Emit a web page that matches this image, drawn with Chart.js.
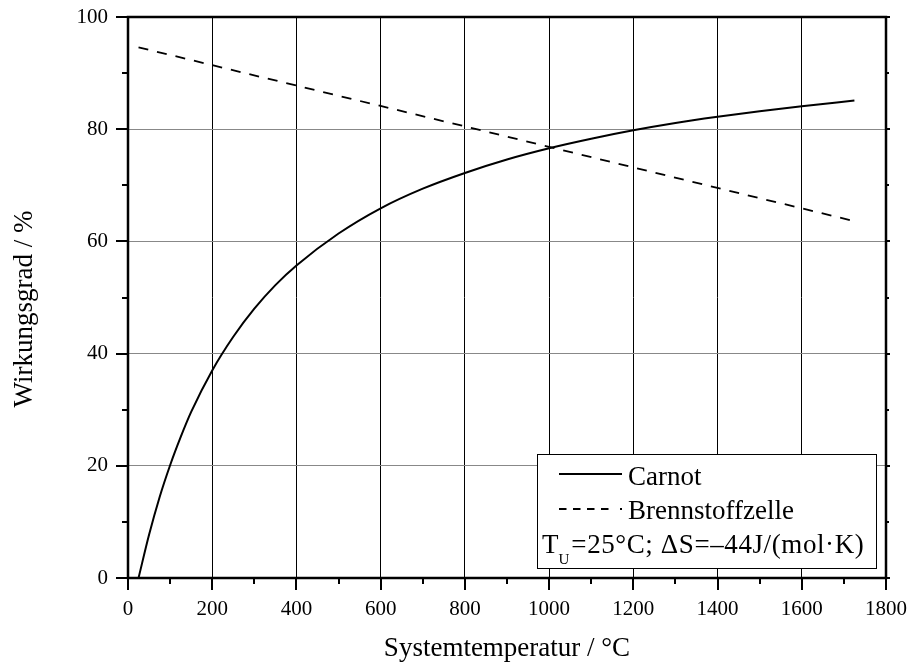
<!DOCTYPE html>
<html><head><meta charset="utf-8">
<script src="https://cdn.jsdelivr.net/npm/chart.js@4/dist/chart.umd.min.js"></script>
<style>html,body{margin:0;padding:0;background:#fff}#wrap{width:909px;height:666px}</style>
</head><body><div id="wrap"><canvas id="c"></canvas></div>
<script>
const carnotT = [25,50,75,100,125,150,200,250,300,350,400,500,600,700,800,900,1000,1100,1200,1300,1400,1500,1600,1725];
const carnotEta = [0,7.7,14.4,20.1,25.1,29.6,37.0,43.0,48.0,52.2,55.7,61.4,65.9,69.4,72.2,74.6,76.6,78.3,79.8,81.1,82.2,83.2,84.1,85.1];
const fuelT = [25,800,1725];
const fuelEta = [94.6,80.5,63.6];
const xTicks = [0,200,400,600,800,1000,1200,1400,1600,1800];
const yTicks = [0,20,40,60,80,100];
const xMinor = [100,300,500,700,900,1100,1300,1500,1700];
const yMinor = [10,30,50,70,90];
const legendLabels = ['Carnot','Brennstoffzelle'];
const yTitle = 'Wirkungsgrad / %';
const xTitle = 'Systemtemperatur / °C';
const FONT = '"Liberation Serif","Times New Roman",serif';

const deco = {
  id:'deco',
  afterDraw(chart){
    const ctx = chart.ctx, a = chart.chartArea, xs = chart.scales.x, ys = chart.scales.y;
    ctx.save();
    ctx.strokeStyle='#000';
    ctx.lineWidth=2;
    const tick=(x1,y1,x2,y2)=>{ctx.beginPath();ctx.moveTo(x1,y1);ctx.lineTo(x2,y2);ctx.stroke();};
    xTicks.forEach(v=>{const p=Math.round(xs.getPixelForValue(v));tick(p,a.bottom,p,a.bottom+12);});
    xMinor.forEach(v=>{const p=Math.round(xs.getPixelForValue(v));tick(p,a.bottom,p,a.bottom+6);});
    yTicks.forEach(v=>{const p=Math.round(ys.getPixelForValue(v));tick(a.left-12,p,a.left,p);tick(a.right,p,a.right+4,p);});
    yMinor.forEach(v=>{const p=Math.round(ys.getPixelForValue(v));tick(a.left-6,p,a.left,p);tick(a.right,p,a.right+3,p);});
    ctx.lineWidth=2.5;
    ctx.strokeRect(a.left,a.top,a.right-a.left,a.bottom-a.top);
    // y title
    ctx.save();
    ctx.fillStyle='#000';
    ctx.font='27px '+FONT;
    ctx.translate(25,309);ctx.rotate(-Math.PI/2);
    ctx.textAlign='center';ctx.textBaseline='middle';
    ctx.fillText(yTitle,0,0);
    ctx.restore();
    // legend
    const lx=537, ly=454, lw=339, lh=114;
    ctx.fillStyle='#fff';ctx.fillRect(lx,ly,lw,lh);
    ctx.lineWidth=1;ctx.strokeStyle='#000';
    ctx.strokeRect(lx+0.5,ly+0.5,lw,lh);
    ctx.lineWidth=2;
    ctx.beginPath();ctx.moveTo(559,474);ctx.lineTo(622,474);ctx.stroke();
    ctx.setLineDash([7.5,6.5]);
    ctx.beginPath();ctx.moveTo(559,509);ctx.lineTo(613,509);ctx.stroke();
    ctx.setLineDash([]);
    ctx.fillStyle='#000';
    ctx.fillRect(620,508,2,2);
    ctx.font='27px '+FONT;
    ctx.textBaseline='alphabetic';ctx.textAlign='left';
    ctx.fillText(legendLabels[0],628,485);
    ctx.fillText(legendLabels[1],628,519);
    let x=542;
    ctx.fillText('T',x,553); x+=ctx.measureText('T').width;
    ctx.font='15px '+FONT; ctx.fillText('U',x,564); x+=ctx.measureText('U').width+2;
    ctx.font='27px '+FONT;
    try{ctx.letterSpacing='0.6px';}catch(e){}
    ctx.fillText('=25°C; ΔS=–44J/(mol·K)',x,553);
    ctx.restore();
  }
};

new Chart(document.getElementById('c'),{
  type:'scatter',
  data:{datasets:[
    {label:legendLabels[0],data:carnotT.map((t,i)=>({x:t,y:carnotEta[i]})),showLine:true,borderColor:'#000',borderWidth:2,pointRadius:0,cubicInterpolationMode:'monotone',fill:false},
    {label:legendLabels[1],data:fuelT.map((t,i)=>({x:t,y:fuelEta[i]})),showLine:true,borderColor:'#000',borderWidth:1.8,borderDash:[10,9],pointRadius:0,fill:false}
  ]},
  options:{
    responsive:true,maintainAspectRatio:false,animation:false,
    layout:{padding:{top:17,right:23,left:0,bottom:0}},
    plugins:{legend:{display:false},tooltip:{enabled:false}},
    scales:{
      x:{type:'linear',min:0,max:1800,
        afterBuildTicks:s=>{s.ticks=xTicks.map(v=>({value:v}));},
        afterFit:s=>{s.height=88;s.paddingLeft=0;s.paddingRight=0;},
        grid:{drawTicks:false,color:'#000',lineWidth:1},border:{display:false},
        ticks:{padding:19,color:'#000',font:{family:FONT,size:21},maxRotation:0,autoSkip:false,callback:v=>String(v)},
        title:{display:true,text:xTitle,color:'#000',font:{family:FONT,size:27},padding:{top:0,bottom:1}}
      },
      y:{type:'linear',min:0,max:100,
        afterBuildTicks:s=>{s.ticks=yTicks.map(v=>({value:v}));},
        afterFit:s=>{s.width=128;s.paddingTop=0;s.paddingBottom=0;},
        grid:{drawTicks:false,color:'#888',lineWidth:1},border:{display:false},
        ticks:{padding:20,color:'#000',font:{family:FONT,size:21},autoSkip:false,callback:v=>String(v)},
        title:{display:false}
      }
    }
  },
  plugins:[deco]
});
</script></body></html>
